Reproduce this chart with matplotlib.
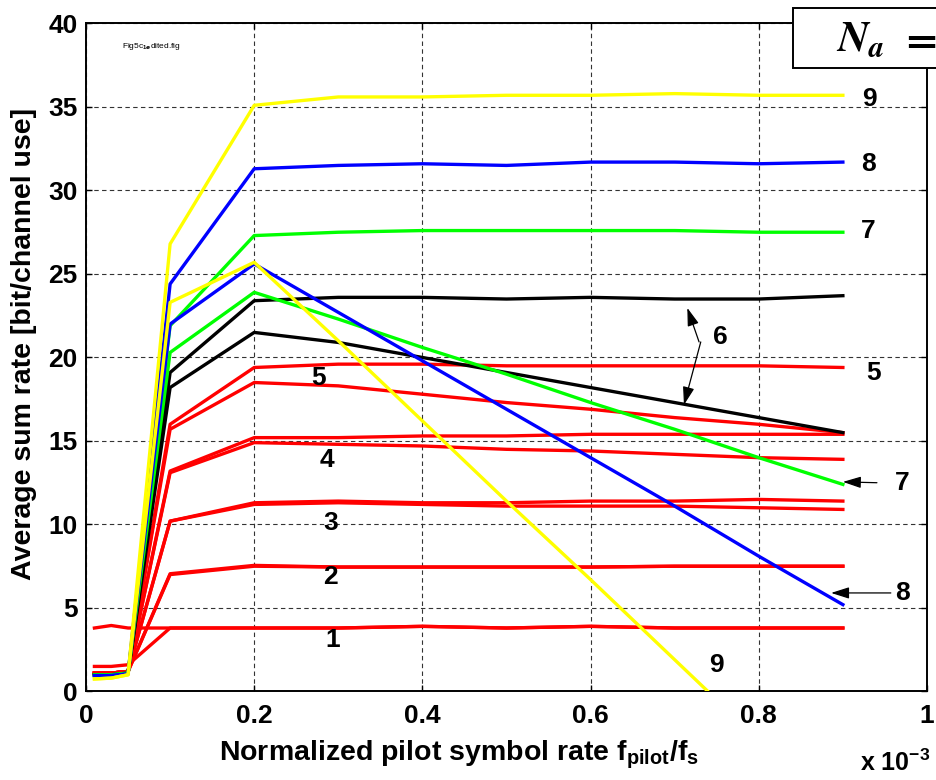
import numpy as np
import matplotlib
matplotlib.use('Agg')
import matplotlib.pyplot as plt
from matplotlib.patches import Rectangle

# pilot rate (x 1e-3)
x = [0.01, 0.03, 0.05, 0.1, 0.2, 0.3, 0.4, 0.5, 0.6, 0.7, 0.8, 0.9]

# two curves per number of antennas Na: flat one and the one that decays
na1_flat = [3.8, 3.95, 3.8, 3.8, 3.8, 3.8, 3.9, 3.8, 3.9, 3.8, 3.8, 3.8]
na1_dec  = [1.5, 1.5, 1.6, 3.8, 3.8, 3.8, 3.9, 3.8, 3.9, 3.8, 3.8, 3.8]
na2_flat = [1.1, 1.1, 1.2, 7.0, 7.5, 7.45, 7.45, 7.45, 7.45, 7.5, 7.5, 7.5]
na2_dec  = [1.1, 1.1, 1.2, 7.05, 7.55, 7.45, 7.45, 7.45, 7.45, 7.5, 7.5, 7.5]
na3_flat = [1.1, 1.1, 1.2, 10.2, 11.3, 11.4, 11.3, 11.3, 11.4, 11.4, 11.5, 11.4]
na3_dec  = [1.1, 1.1, 1.2, 10.2, 11.2, 11.3, 11.2, 11.1, 11.1, 11.1, 11.0, 10.9]
na4_flat = [1.1, 1.1, 1.2, 13.2, 15.2, 15.2, 15.3, 15.3, 15.4, 15.4, 15.4, 15.4]
na4_dec  = [1.1, 1.1, 1.2, 13.1, 14.9, 14.8, 14.7, 14.5, 14.4, 14.2, 14.0, 13.9]
na5_flat = [1.1, 1.1, 1.2, 16.0, 19.4, 19.6, 19.6, 19.5, 19.5, 19.5, 19.5, 19.4]
na5_dec  = [1.1, 1.1, 1.2, 15.7, 18.5, 18.3, 17.8, 17.3, 16.9, 16.4, 16.0, 15.5]
na6_flat = [1.0, 1.0, 1.1, 19.1, 23.4, 23.6, 23.6, 23.5, 23.6, 23.5, 23.5, 23.7]
na6_dec  = [1.0, 1.0, 1.1, 18.2, 21.5, 20.9, 20.0, 19.1, 18.2, 17.3, 16.4, 15.5]
na7_flat = [1.0, 1.0, 1.1, 21.9, 27.3, 27.5, 27.6, 27.6, 27.6, 27.6, 27.5, 27.5]
na7_dec  = [1.0, 1.0, 1.1, 20.3, 23.9, 22.3, 20.6, 19.0, 17.3, 15.7, 14.0, 12.4]
na8_flat = [0.95, 0.95, 1.05, 24.4, 31.3, 31.5, 31.6, 31.5, 31.7, 31.7, 31.6, 31.7]
na8_dec  = [0.95, 0.95, 1.05, 22.0, 25.6, 22.7, 19.8, 16.9, 14.0, 11.1, 8.1, 5.2]
na9_flat = [0.75, 0.8, 1.0, 26.8, 35.1, 35.6, 35.6, 35.7, 35.7, 35.8, 35.7, 35.7]
na9_dec  = [0.75, 0.8, 1.0, 23.3, 25.7, 21.0, 16.2, 11.4, 6.7, 1.9, -2.9, -7.6]

red_curves = [na1_flat, na1_dec, na2_flat, na2_dec, na3_flat, na3_dec,
              na4_flat, na4_dec, na5_flat, na5_dec]
other_curves = [(na6_flat, 'black'), (na6_dec, 'black'),
                (na7_flat, '#00ff00'), (na7_dec, '#00ff00'),
                (na8_flat, '#0000ff'), (na8_dec, '#0000ff'),
                (na9_flat, '#ffff00'), (na9_dec, '#ffff00')]

plt.rcParams['font.family'] = ['Liberation Sans', 'DejaVu Sans']
plt.rcParams['font.weight'] = 'bold'
plt.rcParams['mathtext.fontset'] = 'custom'
plt.rcParams['mathtext.rm'] = 'Liberation Sans'
plt.rcParams['mathtext.bf'] = 'Liberation Sans:bold'

fig = plt.figure(figsize=(9.37, 7.8), dpi=100)
ax = fig.add_axes([0.0918, 0.1135, 0.8975, 0.8564])

lw = 2.4
for y in red_curves:
    ax.plot(x, y, color='#ff0000', lw=lw, zorder=3)
for y, c in other_curves:
    ax.plot(x, y, color=c, lw=lw, zorder=4)

ax.set_xlim(0, 1)
ax.set_ylim(0, 40)
ax.set_xticks([0, 0.2, 0.4, 0.6, 0.8, 1])
ax.set_xticklabels(['0', '0.2', '0.4', '0.6', '0.8', '1'])
ax.set_yticks(np.arange(0, 41, 5))
ax.tick_params(direction='in', length=4.5, width=1, labelsize=19,
               top=True, right=True)
ax.tick_params(axis='x', pad=9)
ax.tick_params(axis='y', pad=6)
for lab in ax.get_xticklabels() + ax.get_yticklabels():
    lab.set_fontweight('bold')
for s in ax.spines.values():
    s.set_linewidth(1.4)

ax.grid(True, color='#333333', linestyle=(0, (4, 3)), linewidth=0.8)
ax.set_axisbelow(True)

ax.set_xlabel(r'Normalized pilot symbol rate f$_{\mathbf{pilot}}$/f$_{\mathbf{s}}$',
              fontsize=20.5, fontweight='bold')
ax.xaxis.set_label_coords(0.4435, -0.071)
ax.set_ylabel('Average sum rate [bit/channel use]', fontsize=20.5, fontweight='bold')
ax.yaxis.set_label_coords(-0.058, 0.52)

fig.text(0.955, 0.022, r'x 10$^{\mathbf{-3}}$', fontsize=18, fontweight='bold',
         ha='center', va='center')

ax.text(0.043, 38.65, r'Fig5c$_{1e}$dited.fig', fontsize=6, fontweight='normal',
        ha='left', va='center')

# curve labels
lab_kw = dict(fontsize=19, fontweight='bold', ha='center', va='center', zorder=6)
labels = [('9', 0.931, 35.5), ('8', 0.930, 31.6), ('7', 0.930, 27.6),
          ('6', 0.754, 21.2), ('5', 0.937, 19.1), ('5', 0.276, 18.75),
          ('4', 0.2865, 13.85), ('3', 0.291, 10.1), ('2', 0.291, 6.85),
          ('1', 0.293, 3.1), ('7', 0.970, 12.5), ('8', 0.971, 5.9),
          ('9', 0.750, 1.6)]
for t, lx, ly in labels:
    ax.text(lx, ly, t, **lab_kw)

arr_kw = dict(arrowstyle='-|>,head_length=1.1,head_width=0.35', color='black', lw=0.9,
              shrinkA=0, shrinkB=0)
arrows = [((0.729, 20.93), (0.715, 22.97)),
          ((0.731, 20.93), (0.711, 17.16)),
          ((0.9405, 12.5), (0.900, 12.55)),
          ((0.957, 5.9), (0.886, 5.9))]
for tail, tip in arrows:
    ax.annotate('', xy=tip, xytext=tail, arrowprops=arr_kw, zorder=6)

# N_a box at the top right corner, cut by the figure edge
box = Rectangle((793 / 937, 1 - 68 / 780), 0.3, 60 / 780, transform=fig.transFigure,
                facecolor='white', edgecolor='black', lw=1.4, zorder=5)
fig.add_artist(box)
fig.text(836 / 937, 1 - 40 / 780, r'$N_a$', fontsize=31, math_fontfamily='stix',
         fontweight='normal', ha='left', va='center', zorder=6)
fig.text(899 / 937, 1 - 40 / 780, r'$=$', fontsize=31, math_fontfamily='stix',
         fontweight='normal', ha='left', va='center', zorder=6)

fig.savefig('out.png', dpi=100)
